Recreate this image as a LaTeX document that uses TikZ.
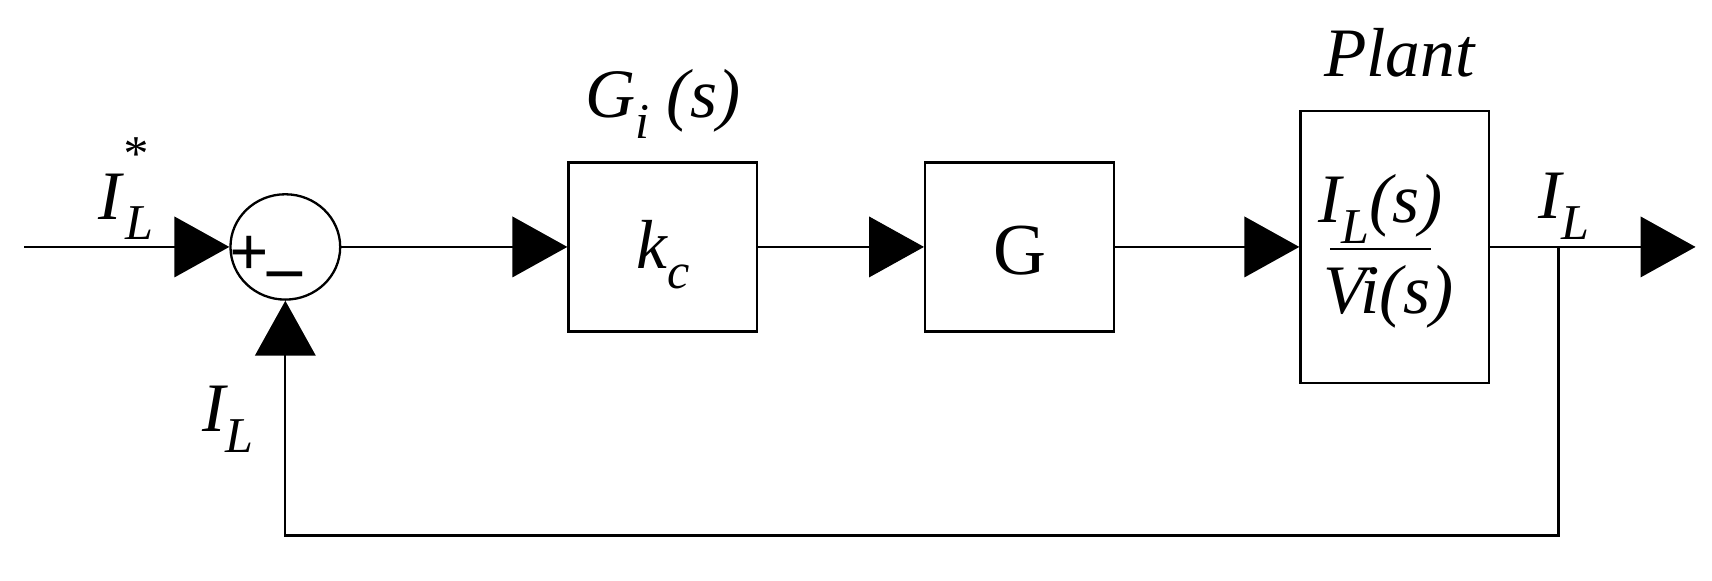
\documentclass[tikz,border=0pt]{standalone}
\usepackage{fontspec}
\setmainfont{Liberation Serif}
\usetikzlibrary{arrows.meta,shapes.geometric}
\newcommand{\mysub}[1]{\raisebox{-0.3em}{\fontsize{26}{26}\selectfont #1}}
\begin{document}
\begin{tikzpicture}[x=0.02cm,y=-0.02cm,line width=1.2pt,
  blk/.style={draw,minimum width=3.44cm,inner sep=0pt},
  arr/.style={-{Triangle[length=1cm,width=1.1cm]}},
  lbl/.style={font=\fontsize{36}{40}\selectfont\itshape},
  big/.style={font=\fontsize{38}{42}\selectfont}]
\useasboundingbox (0,0) rectangle (1560,529);
\node[draw,ellipse,minimum width=2cm,minimum height=1.92cm,inner sep=0pt] (s) at (260,225) {};
\node[blk,minimum height=3.08cm] (k) at (604,225) {};
\node[lbl] at (604,232) {k\mysub{c}};
\node[blk,minimum height=3.08cm] (g) at (929,225) {};
\node[big] at (929,228) {G};
\node[blk,minimum height=4.96cm] (p) at (1271,225) {};
\node[lbl,inner sep=0pt] (num) at (1258,190) {I\mysub{L}(s)};
\node[lbl,inner sep=0pt] (den) at (1265,270) {Vi(s)};
\draw[line width=1pt] (1212,227) -- (1304,227);
\node[lbl] at (1275,48) {Plant};
\node[lbl] at (604,95) {G\mysub{i} (s)};
\node[lbl] at (115,172) {I\raisebox{0.7em}{\fontsize{26}{26}\selectfont *}\hspace{-0.3em}\mysub{L}};
\node[lbl] at (1425,188) {I\mysub{L}};
\node[lbl] at (208,382) {I\mysub{L}};
\node[font=\fontsize{36}{36}\selectfont\bfseries] at (227,233) {+};
\node[font=\fontsize{36}{36}\selectfont\bfseries] at (260,256) {–};
\coordinate (in) at (22,225);
\coordinate (out) at (1545,225);
\coordinate (tap) at (1420,225);
\coordinate (fb1) at (1420,488);
\coordinate (fb2) at (260,488);
\draw[arr] (in) -- (s.west);
\draw[arr] (s.east) -- (k.west);
\draw[arr] (k.east) -- (g.west);
\draw[arr] (g.east) -- (p.west);
\draw[arr] (p.east) -- (out);
\draw[arr] (tap) -- (fb1) -- (fb2) -- (s.south);
\end{tikzpicture}
\end{document}
